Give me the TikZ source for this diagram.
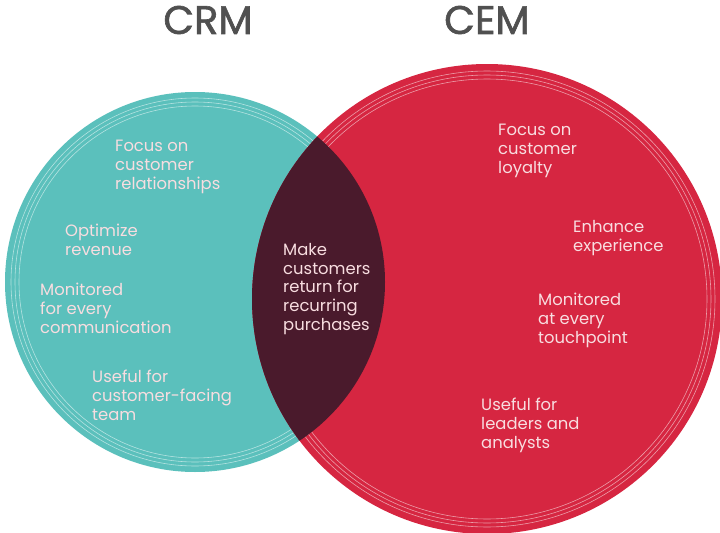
\documentclass[tikz,border=0pt]{standalone}
\usepackage{fontspec}
\setmainfont{Poppins}
\newfontfamily\titlefont[FakeBold=1.6]{Poppins}
\definecolor{crmteal}{HTML}{5BC0BC}
\definecolor{cemred}{HTML}{D62641}
\definecolor{lensdark}{HTML}{4A1A2C}
\definecolor{txtpink}{HTML}{F8DDE0}
\definecolor{titlegrey}{HTML}{505050}
\tikzset{
  label text/.style={text=txtpink, font=\fontsize{14}{16}\selectfont, align=left, anchor=north west, inner sep=0pt},
  title text/.style={text=titlegrey, font=\titlefont\fontsize{34}{40}\selectfont, inner sep=0pt},
  ring/.style={draw=white, opacity=0.55, line width=0.5pt}
}
\begin{document}
\begin{tikzpicture}[x=0.03cm, y=-0.03cm]
  \pgfmathsetmacro {\rc}{190}   %CRM radius
  \pgfmathsetmacro {\re}{235}   %CEM radius
  \useasboundingbox (0,0) rectangle (720,533);

  %CRM circle and its rings
  \fill[crmteal] (195,282) circle (\rc);
  \foreach \d in {6,10,14} \draw[ring] (195,282) circle (\rc-\d);

  %CEM circle and its rings
  \fill[cemred] (487,299) circle (\re);
  \foreach \d in {7,11,15} \draw[ring] (487,299) circle (\re-\d);

  %Overlap
  \begin{scope}
    \clip (195,282) circle (\rc);
    \fill[lensdark] (487,299) circle (\re);
  \end{scope}

  %Titles
  \node[title text] (crm) at (208,20) {CRM};
  \node[title text] (cem) at (487,20) {CEM};

  %CRM side
  \node[label text] (crm1) at (115,140) {Focus on\\customer\\relationships};
  \node[label text] (crm2) at (65,224) {Optimize\\revenue};
  \node[label text] (crm3) at (40,283) {Monitored\\for every\\communication};
  \node[label text] (crm4) at (92,370) {Useful for\\customer-facing\\team};

  %Shared
  \node[label text] (both) at (283,243) {Make\\customers\\return for\\recurring\\purchases};

  %CEM side
  \node[label text] (cem1) at (498,124) {Focus on\\customer\\loyalty};
  \node[label text] (cem2) at (573,220) {Enhance\\experience};
  \node[label text] (cem3) at (538,293) {Monitored\\at every\\touchpoint};
  \node[label text] (cem4) at (481,398) {Useful for\\leaders and\\analysts};
\end{tikzpicture}
\end{document}
